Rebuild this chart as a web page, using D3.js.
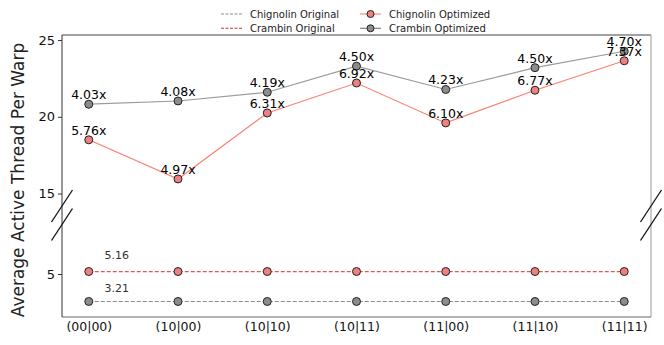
<!DOCTYPE html>
<html>
<head>
<meta charset="utf-8">
<script src="https://cdn.jsdelivr.net/npm/d3@7"></script>
<style>
  html, body { margin: 0; padding: 0; background: #fff; }
  svg { display: block; font-family: "DejaVu Sans", sans-serif; }
</style>
</head>
<body>
<svg id="chart" width="664" height="345"></svg>
<script>
// ---- data ----
const categories = ["(00|00)", "(10|00)", "(10|10)", "(10|11)", "(11|00)", "(11|10)", "(11|11)"];
const chignolinOriginal = [3.21, 3.21, 3.21, 3.21, 3.21, 3.21, 3.21];
const crambinOriginal = [5.16, 5.16, 5.16, 5.16, 5.16, 5.16, 5.16];
const chignolinOptimized = [18.5, 15.95, 20.25, 22.2, 19.6, 21.73, 23.65];
const crambinOptimized = [20.82, 21.03, 21.6, 23.3, 21.78, 23.2, 24.27];
const chignolinSpeedup = ["5.76x", "4.97x", "6.31x", "6.92x", "6.10x", "6.77x", "7.37x"];
const crambinSpeedup = ["4.03x", "4.08x", "4.19x", "4.50x", "4.23x", "4.50x", "4.70x"];
const topTicks = [15, 20, 25];
const bottomTicks = [5];
const yTitle = "Average Active Thread Per Warp";

// ---- layout ----
const svg = d3.select("#chart");
const L = 62, R = 651, T = 35, B = 317, BRK = 215;

const x = d3.scalePoint().domain(categories).range([L, R]).padding(0.3);
const yTop = d3.scaleLinear().domain([13.6, 25.33]).range([BRK, T]);
const yBot = d3.scaleLinear().domain([2.2, 8.84]).range([B, BRK]);

// ---- frame ----
svg.append("line").attr("x1", L).attr("x2", R).attr("y1", T).attr("y2", T).attr("stroke", "#444").attr("stroke-width", 1);
svg.append("line").attr("x1", R).attr("x2", R).attr("y1", T).attr("y2", B).attr("stroke", "#aaa").attr("stroke-width", 1.2);
svg.append("line").attr("x1", L).attr("x2", R).attr("y1", B).attr("y2", B).attr("stroke", "#666").attr("stroke-width", 1.2);
svg.append("line").attr("x1", L).attr("x2", L).attr("y1", T).attr("y2", B).attr("stroke", "#333").attr("stroke-width", 1);

// ---- y axes ----
const axTop = svg.append("g").attr("transform", `translate(${L},0)`)
  .call(d3.axisLeft(yTop).tickValues(topTicks).tickFormat(d3.format("d")).tickSize(4).tickPadding(3));
const axBot = svg.append("g").attr("transform", `translate(${L},0)`)
  .call(d3.axisLeft(yBot).tickValues(bottomTicks).tickFormat(d3.format("d")).tickSize(4).tickPadding(3));
[axTop, axBot].forEach(g => {
  g.select(".domain").remove();
  g.selectAll(".tick line").attr("stroke", "#333");
  g.selectAll(".tick text").attr("font-size", 13).attr("fill", "#111").attr("font-family", "DejaVu Sans");
});

// ---- x axis labels ----
const axX = svg.append("g").attr("transform", `translate(0,${B})`)
  .call(d3.axisBottom(x).tickSize(0).tickPadding(5));
axX.select(".domain").remove();
axX.selectAll(".tick text").attr("font-size", 12.5).attr("fill", "#111").attr("font-family", "DejaVu Sans");

// ---- y title ----
svg.append("text")
  .attr("transform", `translate(24,${(T + B) / 2 + 4}) rotate(-90)`)
  .attr("text-anchor", "middle")
  .attr("font-size", 17)
  .attr("fill", "#222")
  .text(yTitle);

// ---- break marks ----
[L, R].forEach(sx => {
  [206, 224.5].forEach(cy => {
    svg.append("line")
      .attr("x1", sx - 10.5).attr("y1", cy + 16)
      .attr("x2", sx + 10.5).attr("y2", cy - 16)
      .attr("stroke", "#111").attr("stroke-width", 1.3);
  });
});

// ---- series ----
const series = [
  { vals: chignolinOriginal, y: yBot, line: "#8a8a8a", dash: "4,2", fill: "#8c8c8c", op: 1 },
  { vals: crambinOriginal, y: yBot, line: "#c0392b", dash: "4,2", fill: "#f08080", op: 0.8 },
  { vals: crambinOptimized, y: yTop, line: "#9a9a9a", dash: null, fill: "#8c8c8c", op: 1 },
  { vals: chignolinOptimized, y: yTop, line: "#fa8072", dash: null, fill: "#f08080", op: 1 }
];

series.forEach(s => {
  const gen = d3.line().x((d, i) => x(categories[i])).y(d => s.y(d));
  svg.append("path").datum(s.vals)
    .attr("d", gen)
    .attr("fill", "none")
    .attr("stroke", s.line)
    .attr("stroke-opacity", s.op)
    .attr("stroke-width", 1.2)
    .attr("stroke-dasharray", s.dash);
});
series.forEach(s => {
  svg.append("g").selectAll("circle").data(s.vals).join("circle")
    .attr("cx", (d, i) => x(categories[i]))
    .attr("cy", d => s.y(d))
    .attr("r", 4)
    .attr("fill", s.fill)
    .attr("stroke", "#222")
    .attr("stroke-width", 1);
});

// ---- annotations ----
svg.append("g").selectAll("text").data(crambinOptimized).join("text")
  .attr("x", (d, i) => x(categories[i]))
  .attr("y", d => yTop(d) - 5)
  .attr("text-anchor", "middle").attr("font-size", 12.5).attr("fill", "#000")
  .text((d, i) => crambinSpeedup[i]);
svg.append("g").selectAll("text").data(chignolinOptimized).join("text")
  .attr("x", (d, i) => x(categories[i]))
  .attr("y", d => yTop(d) - 5)
  .attr("text-anchor", "middle").attr("font-size", 12.5).attr("fill", "#000")
  .text((d, i) => chignolinSpeedup[i]);

svg.append("text")
  .attr("x", x(categories[0]) + 28).attr("y", yBot(crambinOriginal[0]) - 13)
  .attr("text-anchor", "middle").attr("font-size", 11).attr("fill", "#333")
  .text(crambinOriginal[0].toFixed(2));
svg.append("text")
  .attr("x", x(categories[0]) + 28).attr("y", yBot(chignolinOriginal[0]) - 9.5)
  .attr("text-anchor", "middle").attr("font-size", 11).attr("fill", "#333")
  .text(chignolinOriginal[0].toFixed(2));

// ---- legend ----
const legendItems = [
  { label: "Chignolin Original", col: 0, row: 0, line: "#8a8a8a", dash: "3,1.5", marker: null },
  { label: "Crambin Original", col: 0, row: 1, line: "#c0392b", dash: "3,1.5", marker: null },
  { label: "Chignolin Optimized", col: 1, row: 0, line: "#fa8072", dash: null, marker: "#f08080" },
  { label: "Crambin Optimized", col: 1, row: 1, line: "#777", dash: null, marker: "#8c8c8c" }
];
const colX = [221, 360];
const rowY = [14, 28.3];
const lg = svg.append("g");
legendItems.forEach(it => {
  const x0 = colX[it.col], yy = rowY[it.row];
  lg.append("line").attr("x1", x0).attr("x2", x0 + 21).attr("y1", yy).attr("y2", yy)
    .attr("stroke", it.line).attr("stroke-width", 1.1).attr("stroke-dasharray", it.dash);
  if (it.marker) {
    lg.append("circle").attr("cx", x0 + 10.5).attr("cy", yy).attr("r", 3.5)
      .attr("fill", it.marker).attr("stroke", "#222").attr("stroke-width", 1);
  }
  lg.append("text").attr("x", x0 + 29).attr("y", yy + 3.6)
    .attr("font-size", 10).attr("fill", "#222").text(it.label);
});
</script>
</body>
</html>
